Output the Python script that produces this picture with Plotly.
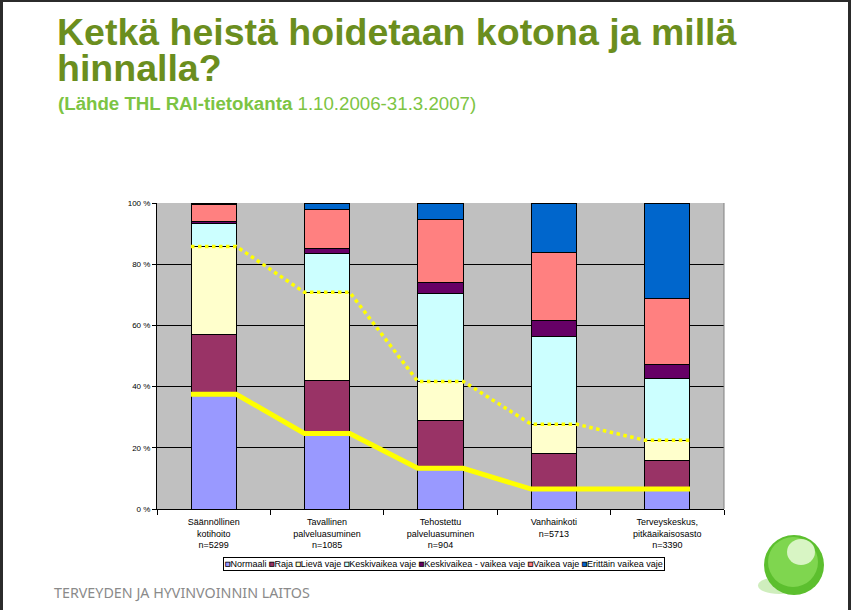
import plotly.graph_objects as go

# ---------------- data ----------------
categories = [
    "Säännöllinen<br>kotihoito<br>n=5299",
    "Tavallinen<br>palveluasuminen<br>n=1085",
    "Tehostettu<br>palveluasuminen<br>n=904",
    "Vanhainkoti<br>n=5713",
    "Terveyskeskus,<br>pitkäaikaisosasto<br>n=3390",
]
series_names = ["Normaali", "Raja", "Lievä vaje", "Keskivaikea vaje",
                "Keskivaikea - vaikea vaje", "Vaikea vaje", "Erittäin vaikea vaje"]
normaali = [37.5, 24.7, 13.3, 6.5, 6.5]
raja = [19.6, 17.2, 15.7, 11.7, 9.4]
lieva = [28.7, 28.9, 12.7, 9.5, 6.6]
keskivaikea = [7.6, 12.8, 28.8, 28.8, 20.2]
kv_vaikea = [0.5, 1.5, 3.6, 5.2, 4.6]
vaikea = [5.7, 12.8, 20.6, 22.2, 21.6]
erittain = [0.4, 2.1, 5.3, 16.1, 31.1]
y_ticks = [0, 20, 40, 60, 80, 100]
y_tick_labels = ["0 %", "20 %", "40 %", "60 %", "80 %", "100 %"]

series_values = [normaali, raja, lieva, keskivaikea, kv_vaikea, vaikea, erittain]
colors = ["#9999FF", "#993366", "#FFFFCC", "#CCFFFF", "#660066", "#FF8080", "#0066CC"]

# ---------------- figure ----------------
W, H = 851, 610
L, R, T, B = 157, 127, 203, 101
BAR_W = 0.4

fig = go.Figure()
xpos = list(range(len(categories)))
for name, vals, col in zip(series_names, series_values, colors):
    fig.add_trace(go.Bar(
        x=xpos, y=vals, name=name, width=BAR_W, showlegend=False,
        marker=dict(color=col, line=dict(color="black", width=1)),
        hoverinfo="y+name",
    ))

# series lines (Excel-style), running across the bars
def series_line(levels):
    xs, ys = [], []
    for i, v in enumerate(levels):
        xs += [i - BAR_W / 2, i + BAR_W / 2]
        ys += [v, v]
    return xs, ys

lvl_solid = normaali
lvl_dot = [a + b + c for a, b, c in zip(normaali, raja, lieva)]

xs, ys = series_line(lvl_dot)
fig.add_trace(go.Scatter(x=xs, y=ys, mode="lines", showlegend=False, hoverinfo="skip",
                         line=dict(color="#FFFF00", width=3.5, dash="dot")))
xs, ys = series_line(lvl_solid)
fig.add_trace(go.Scatter(x=xs, y=ys, mode="lines", showlegend=False, hoverinfo="skip",
                         line=dict(color="#FFFF00", width=5)))

pw = W - L - R
ph = H - T - B
def px(x):
    return (x - L) / pw
def py(y):
    return (H - B - y) / ph

# compact Excel-style legend built from the series names and colours
legend_text = " ".join(
    f"<span style='color:{c};stroke:black;stroke-width:0.8px'>■</span>{n}"
    for n, c in zip(series_names, colors)
)

title_font = "Liberation Sans, Arial, sans-serif"
annotations = [
    dict(text="<b>Ketkä heistä hoidetaan kotona ja millä</b>", x=px(55), y=py(55),
         xref="paper", yref="paper",
         xanchor="left", yanchor="bottom", showarrow=False,
         font=dict(family=title_font, size=37.5, color="#6B8E1E")),
    dict(text="<b>hinnalla?</b>", x=px(55), y=py(91),
         xref="paper", yref="paper",
         xanchor="left", yanchor="bottom", showarrow=False,
         font=dict(family=title_font, size=37.5, color="#6B8E1E")),
    dict(text="<b>(Lähde THL RAI-tietokanta</b> 1.10.2006-31.3.2007)", x=px(56), y=py(116),
         xref="paper", yref="paper",
         xanchor="left", yanchor="bottom", showarrow=False,
         font=dict(family=title_font, size=18.7, color="#7CC443")),
    dict(text="TERVEYDEN JA HYVINVOINNIN LAITOS", x=px(52), y=py(592),
         xref="paper", yref="paper",
         xanchor="left", yanchor="middle", showarrow=False,
         font=dict(family="Noto Sans, Open Sans, sans-serif", size=14.3, color="#8a8a8a")),
    dict(text=legend_text, x=px(444), y=py(564),
         xref="paper", yref="paper",
         xanchor="center", yanchor="middle", showarrow=False,
         bordercolor="black", borderwidth=1, borderpad=1, bgcolor="white",
         font=dict(family="Liberation Sans, Arial, sans-serif", size=9, color="black")),
]

shapes = [
    # plot area right border (grey)
    dict(type="line", xref="paper", yref="paper", x0=1, x1=1, y0=0, y1=1,
         line=dict(color="#808080", width=1)),
    # slide border
    dict(type="rect", xref="paper", yref="paper", x0=px(0), x1=px(3), y0=py(0), y1=py(H),
         fillcolor="#2b2b2b", line=dict(width=0)),
    dict(type="rect", xref="paper", yref="paper", x0=px(0), x1=px(W), y0=py(0), y1=py(2),
         fillcolor="#2b2b2b", line=dict(width=0)),
    dict(type="rect", xref="paper", yref="paper", x0=px(848), x1=px(W), y0=py(0), y1=py(H),
         fillcolor="#2b2b2b", line=dict(width=0)),
    # logo: shadow, ball, highlight
    dict(type="circle", xref="paper", yref="paper", x0=px(758), x1=px(800), y0=py(577), y1=py(594),
         fillcolor="#cfeebd", line=dict(width=0)),
    dict(type="circle", xref="paper", yref="paper", x0=px(764), x1=px(824), y0=py(535), y1=py(595),
         fillcolor="#5cbf2e", line=dict(width=0)),
    dict(type="circle", xref="paper", yref="paper", x0=px(768), x1=px(818), y0=py(537), y1=py(587),
         fillcolor="#7fd64f", line=dict(width=0)),
    dict(type="circle", xref="paper", yref="paper", x0=px(787), x1=px(815), y0=py(539), y1=py(565),
         fillcolor="#d8f5c4", line=dict(width=0)),
]

fig.update_layout(
    width=W, height=H,
    margin=dict(l=L, r=R, t=T, b=B, pad=0),
    paper_bgcolor="white",
    plot_bgcolor="#C0C0C0",
    barmode="stack",
    bargap=0.6,
    font=dict(family="Liberation Sans, Arial, sans-serif", size=9, color="black"),
    xaxis=dict(
        range=[-0.5, len(categories) - 0.5],
        tickvals=xpos, ticktext=categories, ticks="",
        showgrid=False, zeroline=False,
        showline=True, linecolor="black", linewidth=1,
        tickfont=dict(size=9), ticklabelstandoff=4,
        minor=dict(ticks="outside", tick0=-0.5, dtick=1, ticklen=5,
                   tickcolor="black", showgrid=False),
        fixedrange=True,
    ),
    yaxis=dict(
        range=[0, 100], tickvals=y_ticks, ticktext=y_tick_labels,
        showgrid=True, gridcolor="black", gridwidth=1,
        zeroline=False, showline=True, linecolor="black", linewidth=1,
        ticks="outside", ticklen=4, tickcolor="black",
        tickfont=dict(size=8),
        fixedrange=True,
    ),
    annotations=annotations,
    shapes=shapes,
    showlegend=False,
)

fig.write_html("out.html")
